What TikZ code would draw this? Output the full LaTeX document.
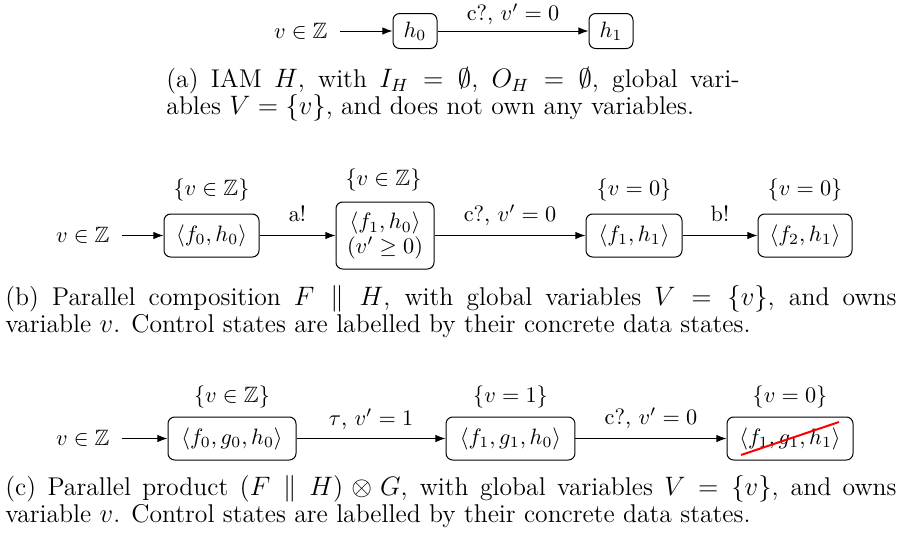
\documentclass[tikz,border=0pt]{standalone}
\usepackage{amsmath,amssymb}
\usetikzlibrary{arrows.meta}
\begin{document}
\begin{tikzpicture}[x=0.45pt,y=-0.45pt,
  state/.style={draw, rounded corners=3pt, line width=0.45pt, inner sep=0pt, align=center, minimum height=19.35pt},
  initlbl/.style={inner xsep=5.4pt, inner ysep=0pt, anchor=east},
  vlabel/.style={inner sep=0pt},
  elabel/.style={inner sep=0pt, anchor=base},
  trans/.style={-{Latex[length=4.6pt,width=3.4pt]}, line width=0.45pt},
  capt/.style={inner sep=0pt, anchor=base west, align=justify, text width=#1, font=\fontsize{11.55pt}{12.4pt}\selectfont}]
\useasboundingbox (0,0) rectangle (904,542);

% (a)
\node[initlbl] (ia) at (340,31) {$v \in \mathbb{Z}$};
\node[state, minimum width=19.8pt, minimum height=15.75pt] (h0) at (415,31) {$h_0$};
\node[state, minimum width=19.8pt, minimum height=15.75pt] (h1) at (611,31) {$h_1$};
\draw[trans] (ia) -- (h0);
\draw[trans] (h0) -- node[elabel, yshift=4.6pt] {c?, $v'=0$} (h1);
\node[capt=258pt] (ca) at (166,87) {(a) IAM $H$, with $I_H = \emptyset$, $O_H = \emptyset$, global vari-\linebreak ables $V = \{v\}$, and does not own any variables.};

% (b)
\node[initlbl] (ib) at (122,235.5) {$v \in \mathbb{Z}$};
\node[state, minimum width=42.75pt] (fa) at (211.5,235.5) {$\langle f_0, h_0\rangle$};
\node[state, minimum width=44.1pt, minimum height=30.15pt] (fb) at (385,235.5) {$\langle f_1, h_0\rangle$\\[-1pt]$(v' \geq 0)$};
\node[state, minimum width=43.2pt] (fc) at (634,235.5) {$\langle f_1, h_1\rangle$};
\node[state, minimum width=42.3pt] (fd) at (805,235.5) {$\langle f_2, h_1\rangle$};
\node[vlabel] (la) at (211.5,190) {$\{v \in \mathbb{Z}\}$};
\node[vlabel] (lb) at (383.5,180) {$\{v \in \mathbb{Z}\}$};
\node[vlabel] (lc) at (634,190) {$\{v = 0\}$};
\node[vlabel] (ld) at (805,190) {$\{v = 0\}$};
\draw[trans] (ib) -- (fa);
\draw[trans] (fa) -- node[elabel, yshift=6.5pt] {a!} (fb);
\draw[trans] (fb) -- node[elabel, yshift=6.5pt] {c?, $v'=0$} (fc);
\draw[trans] (fc) -- node[elabel, yshift=6.5pt] {b!} (fd);
\node[capt=401pt] (cb) at (5,305) {(b) Parallel composition $F \parallel H$, with global variables $V = \{v\}$, and owns\linebreak variable $v$. Control states are labelled by their concrete data states.};

% (c)
\node[initlbl] (ic) at (122,438.5) {$v \in \mathbb{Z}$};
\node[state, minimum width=57.6pt] (ga) at (232,438.5) {$\langle f_0, g_0, h_0\rangle$};
\node[state, minimum width=58pt] (gb) at (510.5,438.5) {$\langle f_1, g_1, h_0\rangle$};
\node[state, minimum width=56.7pt] (gc) at (790,438.5) {$\langle f_1, g_1, h_1\rangle$};
\node[vlabel] (ma) at (232,397) {$\{v \in \mathbb{Z}\}$};
\node[vlabel] (mb) at (510.5,397) {$\{v = 1\}$};
\node[vlabel] (mc) at (790,397) {$\{v = 0\}$};
\draw[trans] (ic) -- (ga);
\draw[trans] (ga) -- node[elabel, yshift=5.9pt] {$\tau$, $v'=1$} (gb);
\draw[trans] (gb) -- node[elabel, yshift=6.5pt] {c?, $v'=0$} (gc);
\draw[red, line width=0.9pt] (741,455) -- (839,422);
\node[capt=401pt] (cc) at (5,495) {(c) Parallel product $(F \parallel H) \otimes G$, with global variables $V = \{v\}$, and owns\linebreak variable $v$. Control states are labelled by their concrete data states.};
\end{tikzpicture}
\end{document}
